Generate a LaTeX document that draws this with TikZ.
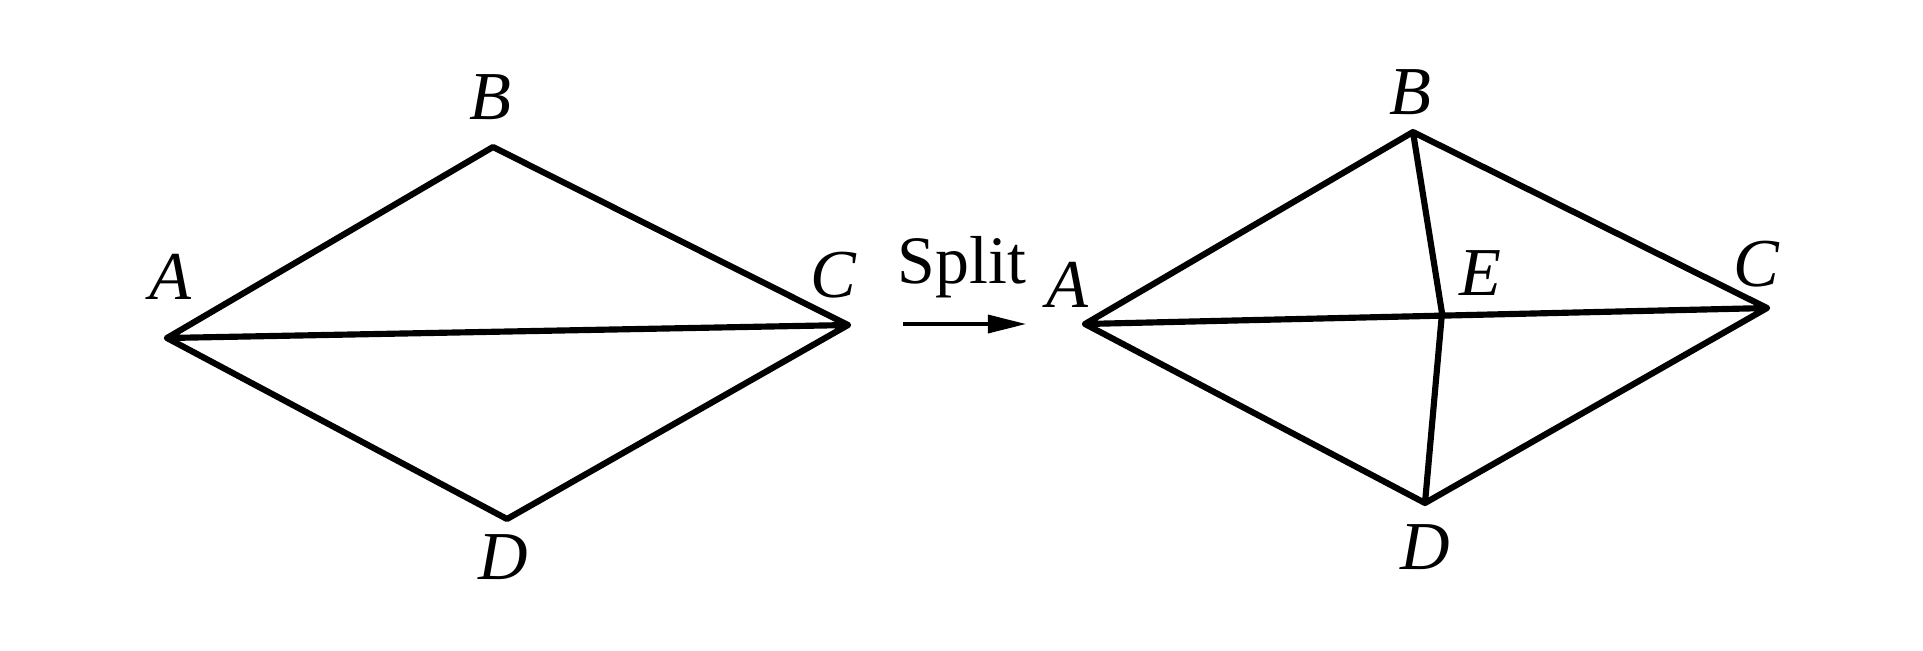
\documentclass[tikz,border=0pt]{standalone}
\usepackage{fontspec}
\setmainfont{Liberation Serif}
\usetikzlibrary{arrows.meta}

\begin{document}
\begin{tikzpicture}[x=0.01cm,y=-0.01cm,
  edge/.style={line width=1.75pt,line join=round,line cap=round},
  arr/.style={line width=0.95pt,-{Triangle[length=0.38cm,width=0.18cm]}},
  lab/.style={font=\fontsize{19.5}{23}\selectfont\itshape,inner sep=0pt},
  txt/.style={font=\fontsize{19.3}{23}\selectfont,inner sep=0pt}]
  \useasboundingbox (0,0) rectangle (1923,650);

  % before the split
  \coordinate (A1) at (167,338);
  \coordinate (B1) at (493,147);
  \coordinate (C1) at (848,325);
  \coordinate (D1) at (507,519);
  \draw[edge] (A1) -- (B1) -- (C1) -- (D1) -- cycle (A1) -- (C1);

  % after the split
  \coordinate (A2) at (1085,324);
  \coordinate (B2) at (1413,132);
  \coordinate (C2) at (1767,308);
  \coordinate (D2) at (1425,503);
  \coordinate (E2) at (1442,313);
  \draw[edge] (A2) -- (B2) -- (C2) -- (D2) -- cycle (A2) -- (C2)
    (B2) -- (E2) -- (D2);

  % arrow
  \coordinate (s) at (903,324);
  \coordinate (t) at (1026,324);
  \draw[arr] (s) -- (t);
  \node[txt,anchor=base] (split) at (962,283) {Split};

  \node[lab] (lA1) at (170,277) {A};
  \node[lab] (lB1) at (490,97) {B};
  \node[lab] (lC1) at (833,275) {C};
  \node[lab] (lD1) at (503,557) {D};
  \node[lab] (lA2) at (1067,285) {A};
  \node[lab] (lB2) at (1410,92) {B};
  \node[lab] (lC2) at (1756,264) {C};
  \node[lab] (lD2) at (1425,547) {D};
  \node[lab] (lE2) at (1480,273) {E};
\end{tikzpicture}
\end{document}
